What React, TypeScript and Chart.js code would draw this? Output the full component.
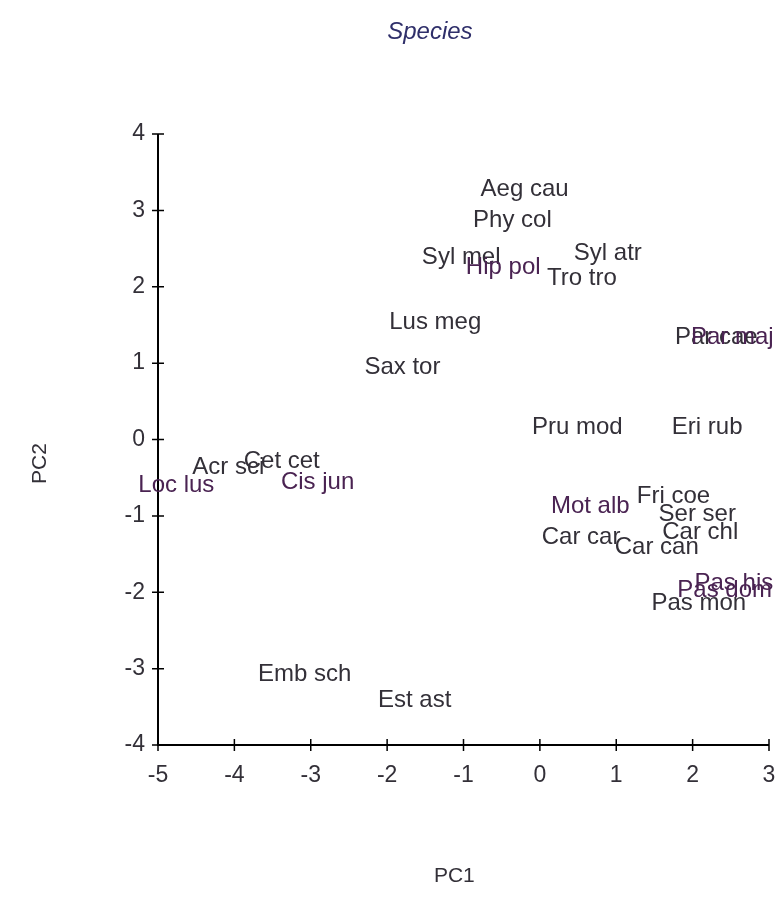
import React, { useEffect, useRef } from "react";
import { Chart, registerables } from "chart.js";

Chart.register(...registerables);

// Species scores on the first two principal components
const species = [
  "Aeg cau", "Phy col", "Syl mel", "Hip pol", "Syl atr", "Tro tro",
  "Lus meg", "Sax tor", "Par cae", "Par maj", "Pru mod", "Eri rub",
  "Acr sci", "Cet cet", "Loc lus", "Cis jun",
  "Mot alb", "Fri coe", "Ser ser", "Car car", "Car chl", "Car can",
  "Pas his", "Pas dom", "Pas mon", "Emb sch", "Est ast",
];
const pc1 = [
  -0.20, -0.36, -1.03, -0.48, 0.89, 0.55,
  -1.37, -1.80, 2.31, 2.52, 0.49, 2.19,
  -4.08, -3.38, -4.76, -2.91,
  0.66, 1.75, 2.06, 0.54, 2.10, 1.53,
  2.54, 2.42, 2.08, -3.08, -1.64,
];
const pc2 = [
  3.28, 2.87, 2.39, 2.26, 2.44, 2.11,
  1.54, 0.94, 1.34, 1.34, 0.16, 0.16,
  -0.36, -0.28, -0.60, -0.56,
  -0.88, -0.75, -0.98, -1.28, -1.22, -1.41,
  -1.88, -1.97, -2.15, -3.08, -3.41,
];
// 1 = printed in the plum tone, 0 = charcoal
const labelTone = [
  0, 0, 0, 1, 0, 0,
  0, 0, 0, 1, 0, 0,
  0, 0, 1, 1,
  1, 0, 0, 0, 0, 0,
  1, 1, 0, 0, 0,
];

const xTicks = [-5, -4, -3, -2, -1, 0, 1, 2, 3];
const yTicks = [-4, -3, -2, -1, 0, 1, 2, 3, 4];

const titleText = "Species";
const xTitle = "PC1";
const yTitle = "PC2";

const FONT = "'Liberation Sans', Arial, sans-serif";
const TONES = ["#333038", "#4a2352"];

const decorPlugin = {
  id: "ordinationDecor",
  afterDraw(chart: any) {
    const { ctx, chartArea, scales } = chart;
    const xs = scales.x;
    const ys = scales.y;
    ctx.save();

    // axis lines
    ctx.strokeStyle = "#000";
    ctx.lineWidth = 2;
    ctx.beginPath();
    ctx.moveTo(chartArea.left, chartArea.top);
    ctx.lineTo(chartArea.left, chartArea.bottom);
    ctx.lineTo(chartArea.right, chartArea.bottom);
    ctx.stroke();

    // tick marks crossing the axes
    ctx.lineWidth = 1.5;
    ctx.beginPath();
    xTicks.forEach((v) => {
      const px = xs.getPixelForValue(v);
      ctx.moveTo(px, chartArea.bottom - 6);
      ctx.lineTo(px, chartArea.bottom + 6);
    });
    yTicks.forEach((v) => {
      const py = ys.getPixelForValue(v);
      ctx.moveTo(chartArea.left - 6, py);
      ctx.lineTo(chartArea.left + 6, py);
    });
    ctx.stroke();

    // species labels at their scores
    const meta = chart.getDatasetMeta(0);
    ctx.font = `24px ${FONT}`;
    ctx.textAlign = "center";
    ctx.textBaseline = "middle";
    meta.data.forEach((pt: any, i: number) => {
      ctx.fillStyle = TONES[labelTone[i]];
      ctx.fillText(species[i], pt.x, pt.y);
    });

    // chart title
    const w = chartArea.right - chartArea.left;
    ctx.font = `italic 24px ${FONT}`;
    ctx.fillStyle = "#2f2f6a";
    ctx.fillText(titleText, chartArea.left + w * 0.445, 32);

    // axis titles
    ctx.font = `21px ${FONT}`;
    ctx.fillStyle = "#333038";
    ctx.fillText(xTitle, chartArea.left + w * 0.485, 876);
    ctx.translate(40, (chartArea.top + chartArea.bottom) / 2 + 24);
    ctx.rotate(-Math.PI / 2);
    ctx.fillText(yTitle, 0, 0);
    ctx.restore();
  },
};

export default function App() {
  const canvasRef = useRef<HTMLCanvasElement | null>(null);

  useEffect(() => {
    if (!canvasRef.current) return;
    const points = species.map((_, i) => ({ x: pc1[i], y: pc2[i] }));
    const chart = new Chart(canvasRef.current, {
      type: "scatter",
      data: {
        datasets: [
          {
            label: titleText,
            data: points,
            pointRadius: 0,
            pointHoverRadius: 0,
            showLine: false,
          },
        ],
      },
      options: {
        animation: false,
        responsive: false,
        maintainAspectRatio: false,
        events: [],
        layout: { padding: { top: 134, right: 10, bottom: 0, left: 0 } },
        plugins: {
          legend: { display: false },
          tooltip: { enabled: false },
          title: { display: false },
        },
        scales: {
          x: {
            type: "linear",
            min: -5,
            max: 3,
            afterBuildTicks: (scale: any) => {
              scale.ticks = xTicks.map((v) => ({ value: v }));
            },
            afterFit: (scale: any) => {
              scale.height = 165;
            },
            grid: { display: false, drawTicks: true, tickLength: 17 },
            border: { display: false },
            ticks: {
              font: { family: FONT, size: 23 },
              color: "#333038",
              padding: 0,
              maxRotation: 0,
              autoSkip: false,
            },
          },
          y: {
            type: "linear",
            min: -4,
            max: 4,
            afterBuildTicks: (scale: any) => {
              scale.ticks = yTicks.map((v) => ({ value: v }));
            },
            afterFit: (scale: any) => {
              scale.width = 158;
            },
            grid: { display: false, drawTicks: true, tickLength: 13 },
            border: { display: false },
            ticks: {
              font: { family: FONT, size: 23 },
              color: "#333038",
              padding: 0,
              autoSkip: false,
            },
          },
        },
      },
      plugins: [decorPlugin],
    });
    return () => chart.destroy();
  }, []);

  return (
    <div style={{ position: "fixed", left: 0, top: 0, width: 779, height: 910, background: "#fff" }}>
      <canvas ref={canvasRef} width={779} height={910} style={{ display: "block" }} />
    </div>
  );
}
